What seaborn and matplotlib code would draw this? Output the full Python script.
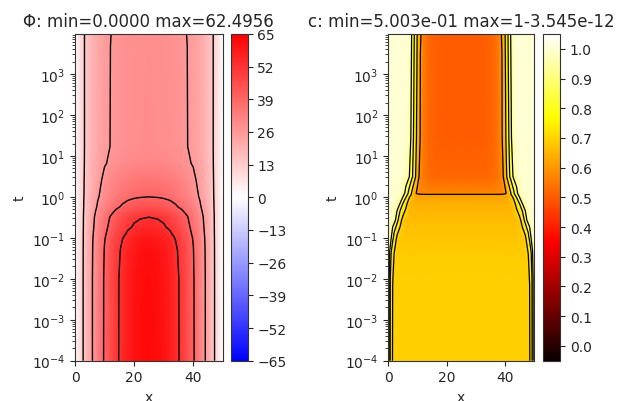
import matplotlib
matplotlib.use("Agg")
import matplotlib.pyplot as plt
import numpy as np
import seaborn as sns

# Left field: potential Phi(x, t). Values read off the picture on the left
# half of the domain (x = 0..25); the right half is the mirror image.
PHI_X = [0, 1, 2, 3, 4, 6, 8, 10, 12, 14, 16, 18, 20, 22, 25]
PHI_T = [1e-4, 1e-2, 0.05, 0.1, 0.18, 0.32, 0.45, 0.57, 0.8, 1.0, 2.6, 6.6,
         17, 9.5e3]
PHI_ROWS = [
    [0, 4.9, 9.6, 14.1, 18.4, 26.4, 33.6, 40.0, 45.6, 50.4, 54.4, 57.6, 60.0, 61.6, 62.5],
    [0, 4.9, 9.6, 14.1, 18.4, 26.4, 33.5, 39.9, 45.5, 50.3, 54.3, 57.5, 59.8, 61.4, 62.3],
    [0, 4.9, 9.6, 14.0, 18.3, 26.1, 33.2, 39.4, 44.8, 49.5, 53.3, 56.4, 58.7, 60.3, 61.2],
    [0, 4.9, 9.5, 13.9, 18.1, 25.7, 32.4, 38.4, 43.5, 47.9, 51.6, 54.5, 56.6, 58.1, 58.9],
    [0, 4.9, 9.5, 13.7, 17.7, 24.9, 31.1, 36.5, 41.2, 45.1, 48.4, 50.9, 52.9, 54.2, 54.9],
    [0, 4.9, 9.4, 13.6, 17.4, 24.3, 30.1, 35.2, 39.5, 43.1, 46.1, 48.4, 50.2, 51.3, 52.0],
    [0, 4.9, 9.3, 13.4, 17.0, 23.4, 28.7, 33.2, 36.9, 40.0, 42.6, 44.6, 46.1, 47.0, 47.6],
    [0, 4.9, 9.3, 13.2, 16.7, 22.7, 27.6, 31.6, 35.0, 37.7, 39.9, 41.6, 42.9, 43.7, 44.3],
    [0, 4.9, 9.2, 13.1, 16.4, 22.1, 26.7, 30.4, 33.4, 35.8, 37.7, 39.3, 40.4, 41.1, 41.5],
    [0, 4.9, 9.2, 12.9, 16.2, 21.6, 25.8, 29.2, 31.9, 34.0, 35.7, 37.0, 38.0, 38.6, 39.0],
    [0, 4.9, 9.1, 12.7, 15.8, 20.8, 24.5, 27.4, 29.6, 31.3, 32.6, 33.6, 34.3, 34.8, 35.1],
    [0, 4.9, 9.0, 12.5, 15.4, 19.9, 23.1, 25.4, 27.1, 28.2, 29.1, 29.8, 30.2, 30.5, 30.7],
    [0, 4.9, 9.0, 12.4, 15.2, 19.6, 22.5, 24.7, 26.1, 27.0, 27.8, 28.3, 28.6, 28.8, 29.0],
    [0, 4.9, 9.0, 12.4, 15.2, 19.5, 22.4, 24.5, 25.9, 26.8, 27.5, 28.0, 28.3, 28.5, 28.7],
]
PHI_LEVELS = [13, 26, 39, 52]
PHI_TICKS = [-65, -52, -39, -26, -13, 0, 13, 26, 39, 52, 65]

# Right field: concentration c(x, t), same layout as above.
C_X = [0, 0.5, 1, 1.5, 2, 3, 4, 5, 6, 7, 8, 9, 10, 11, 12, 14, 17, 20, 25]
C_T = [1e-4, 1e-2, 0.04, 0.1, 0.27, 0.69, 1.0, 1.13, 1.22, 3.1, 30, 9.5e3]
C_ROWS = [
    [1.0, 0.83, 0.73, 0.695, 0.69, 0.69, 0.69, 0.69, 0.69, 0.69, 0.69, 0.69, 0.69, 0.69, 0.69, 0.69, 0.69, 0.69, 0.69],
    [1.0, 0.84, 0.735, 0.702, 0.69, 0.69, 0.69, 0.69, 0.69, 0.69, 0.69, 0.69, 0.69, 0.69, 0.69, 0.69, 0.69, 0.69, 0.69],
    [1.0, 0.89, 0.79, 0.73, 0.698, 0.688, 0.685, 0.685, 0.685, 0.685, 0.685, 0.685, 0.685, 0.685, 0.685, 0.685, 0.685, 0.685, 0.685],
    [1.0, 0.96, 0.90, 0.83, 0.76, 0.685, 0.677, 0.675, 0.675, 0.675, 0.675, 0.675, 0.675, 0.675, 0.675, 0.675, 0.675, 0.675, 0.675],
    [1.0, 0.995, 0.99, 0.97, 0.95, 0.84, 0.725, 0.68, 0.665, 0.66, 0.66, 0.66, 0.66, 0.66, 0.66, 0.66, 0.66, 0.66, 0.66],
    [1.0, 1.0, 0.998, 0.995, 0.99, 0.97, 0.90, 0.80, 0.725, 0.67, 0.65, 0.643, 0.64, 0.64, 0.64, 0.64, 0.64, 0.64, 0.64],
    [1.0, 1.0, 1.0, 0.998, 0.995, 0.99, 0.97, 0.90, 0.81, 0.72, 0.66, 0.635, 0.625, 0.62, 0.62, 0.62, 0.62, 0.62, 0.62],
    [1.0, 1.0, 1.0, 1.0, 0.998, 0.995, 0.98, 0.93, 0.85, 0.76, 0.69, 0.645, 0.62, 0.612, 0.61, 0.61, 0.61, 0.61, 0.61],
    [1.0, 1.0, 1.0, 1.0, 1.0, 0.998, 0.99, 0.95, 0.87, 0.78, 0.695, 0.62, 0.585, 0.575, 0.57, 0.57, 0.57, 0.57, 0.57],
    [1.0, 1.0, 1.0, 1.0, 1.0, 1.0, 0.998, 0.99, 0.97, 0.92, 0.83, 0.74, 0.63, 0.575, 0.55, 0.53, 0.52, 0.52, 0.52],
    [1.0, 1.0, 1.0, 1.0, 1.0, 1.0, 1.0, 1.0, 0.998, 0.985, 0.87, 0.76, 0.67, 0.595, 0.55, 0.52, 0.505, 0.50, 0.50],
    [1.0, 1.0, 1.0, 1.0, 1.0, 1.0, 1.0, 1.0, 1.0, 0.995, 0.902, 0.79, 0.69, 0.61, 0.56, 0.52, 0.505, 0.50, 0.50],
]
C_LEVELS = [0.6, 0.7, 0.8, 0.9]
C_TICKS = [0.0, 0.1, 0.2, 0.3, 0.4, 0.5, 0.6, 0.7, 0.8, 0.9, 1.0]

L_DOMAIN = 50


def mirror(xs, rows):
    """Append the mirror image about the domain centre (x = 25)."""
    xs = np.asarray(xs, dtype=float)
    z = np.asarray(rows, dtype=float)
    x_full = np.concatenate([xs, L_DOMAIN - xs[-2::-1]])
    z_full = np.hstack([z, z[:, -2::-1]])
    return x_full, z_full


def draw_field(fig, ax, cax, xs, ts, rows, cmap, vmin, vmax, levels, ticks,
               title, lw):
    x_full, z = mirror(xs, rows)
    X, T = np.meshgrid(x_full, np.asarray(ts, dtype=float))
    mesh = ax.pcolormesh(X, T, z, shading="gouraud", cmap=cmap,
                         vmin=vmin, vmax=vmax)
    ax.contour(X, T, z, levels=levels, colors="k", linewidths=lw)
    ax.set_yscale("log")
    ax.set_xlim(0, L_DOMAIN)
    ax.set_ylim(ts[0], ts[-1])
    ax.set_xticks([0, 20, 40])
    ax.set_xlabel("x")
    ax.set_ylabel("t")
    ax.set_title(title)
    fig.colorbar(mesh, cax=cax, ticks=ticks)


sns.set_style("ticks")
plt.rcParams["font.family"] = ["DejaVu Sans"]
plt.rcParams["axes.edgecolor"] = "0.2"

fig = plt.figure(figsize=(6.25, 4.02), dpi=100)
ax1 = fig.add_axes([0.120, 0.1003, 0.2363, 0.8127])
cb1 = fig.add_axes([0.3691, 0.1003, 0.0272, 0.8127])
ax2 = fig.add_axes([0.6213, 0.1003, 0.2331, 0.8127])
cb2 = fig.add_axes([0.8683, 0.1003, 0.0277, 0.8127])

draw_field(fig, ax1, cb1, PHI_X, PHI_T, PHI_ROWS, "bwr", -65, 65,
           PHI_LEVELS, PHI_TICKS, "\u03a6: min=0.0000 max=62.4956", 1.0)
draw_field(fig, ax2, cb2, C_X, C_T, C_ROWS, "hot", -0.05, 1.05,
           C_LEVELS, C_TICKS, "c: min=5.003e-01 max=1-3.545e-12", 0.9)

fig.savefig("out.png", dpi=100)
